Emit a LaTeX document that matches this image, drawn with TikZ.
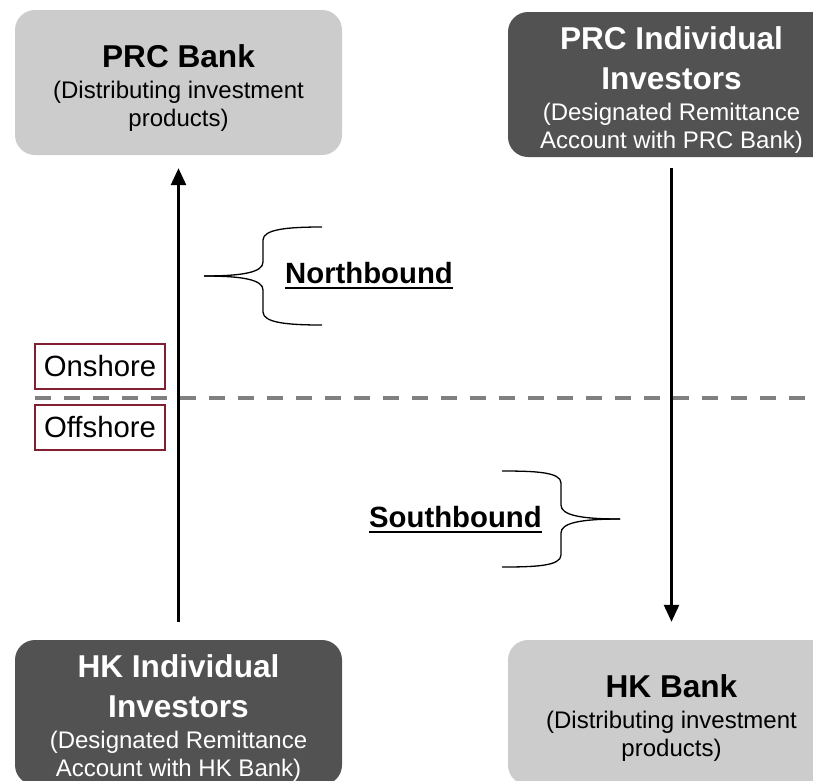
\documentclass[tikz,border=0pt]{standalone}
\usepackage{fontspec}
\setmainfont{Liberation Sans}
\usetikzlibrary{arrows.meta}
\setlength{\parindent}{0pt}
\definecolor{lightbox}{RGB}{204,204,204}
\definecolor{darkbox}{RGB}{82,82,82}
\definecolor{shoreline}{RGB}{127,31,47}
\definecolor{borderline}{RGB}{128,128,128}
\newcommand{\boxhead}[1]{{\fontsize{31.6}{40}\selectfont\bfseries\rule{0pt}{34pt}#1\par}}
\newcommand{\boxnote}[1]{{\fontsize{24}{28}\selectfont\vspace{3pt}#1\par}}
\begin{document}
\begin{tikzpicture}[x=1pt,y=-1pt,
  bank/.style={fill=lightbox, rounded corners=20pt, minimum width=327pt,
    minimum height=145pt, text width=320pt, align=flush center, inner sep=0pt},
  investor/.style={bank, fill=darkbox, text=white},
  shore/.style={draw=shoreline, line width=2pt, minimum width=130pt,
    minimum height=45pt, inner sep=0pt, font=\fontsize{29.3}{34}\selectfont},
  bound/.style={inner sep=0pt, font=\fontsize{29.3}{34}\selectfont\bfseries},
  flow/.style={line width=2.6pt, -{Triangle[width=15pt,length=17pt]}},
  brace/.style={line width=1.3pt}]
\clip (0,0) rectangle (813,780);
% the four parties
\node[bank] (prcbank) at (178.5,82.5)
  {\boxhead{PRC Bank}\boxnote{(Distributing investment\\products)}};
\node[investor] (prcinv) at (671.5,84.5)
  {\boxhead{PRC Individual\\Investors}\boxnote{(Designated Remittance\\Account with PRC Bank)}};
\node[investor] (hkinv) at (178.5,712.5)
  {\boxhead{HK Individual\\Investors}\boxnote{(Designated Remittance\\Account with HK Bank)}};
\node[bank] (hkbank) at (671.5,712.5)
  {\boxhead{HK Bank}\boxnote{(Distributing investment\\products)}};
% border between onshore and offshore
\coordinate (borderwest) at (35,398);
\coordinate (bordereast) at (813,398);
\draw[borderline, line width=4pt, dash pattern=on 16pt off 13pt] (borderwest) -- (bordereast);
\node[shore] (onshore) at (100,366.5) {Onshore};
\node[shore] (offshore) at (100,427.5) {Offshore};
% flows
\draw[flow, shorten <=18pt, shorten >=13pt] (hkinv) -- (prcbank);
\draw[flow, shorten <=11pt, shorten >=18pt] (prcinv) -- (hkbank);
% northbound brace
\begin{scope}[shift={(204,276)}]
\draw[brace] (0,0) .. controls (40,0) and (59,-4) .. (59,-14) -- (59,-36) .. controls (59,-47) and (85,-49) .. (118,-49);
\draw[brace] (0,0) .. controls (40,0) and (59,4) .. (59,14) -- (59,36) .. controls (59,47) and (85,49) .. (118,49);
\end{scope}
\node[bound, anchor=base west] (northlbl) at (285,283) {Northbound};
\draw[line width=2pt] ([yshift=-5pt]northlbl.base west) -- ([yshift=-5pt]northlbl.base east);
% southbound brace
\begin{scope}[shift={(620,519)}, xscale=-1]
\draw[brace] (0,0) .. controls (40,0) and (59,-4) .. (59,-14) -- (59,-36) .. controls (59,-47) and (85,-48) .. (118,-48);
\draw[brace] (0,0) .. controls (40,0) and (59,4) .. (59,14) -- (59,36) .. controls (59,47) and (85,48) .. (118,48);
\end{scope}
\node[bound, anchor=base west] (southlbl) at (369,527) {Southbound};
\draw[line width=2pt] ([yshift=-5pt]southlbl.base west) -- ([yshift=-5pt]southlbl.base east);
\end{tikzpicture}
\end{document}
